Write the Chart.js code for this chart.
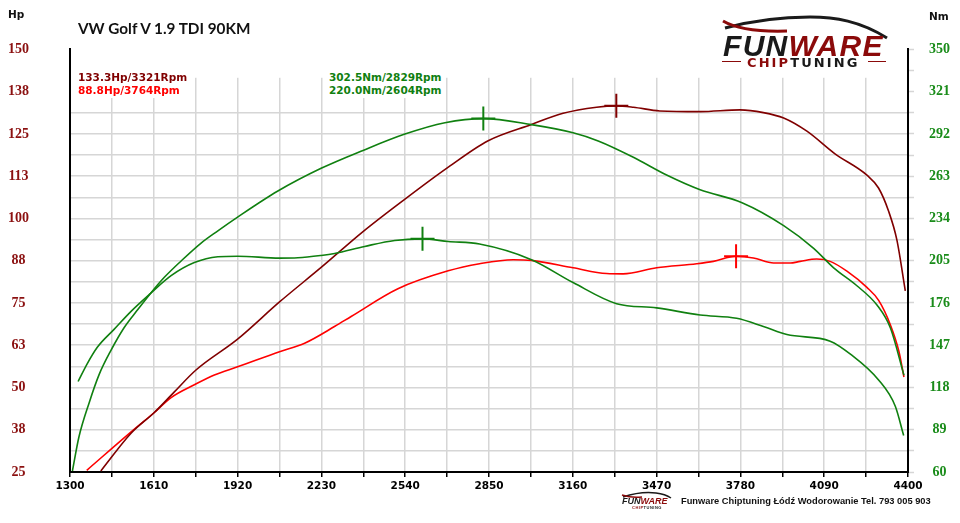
<!DOCTYPE html>
<html><head><meta charset="utf-8">
<script src="https://cdn.jsdelivr.net/npm/chart.js@4.4.0/dist/chart.umd.min.js"></script>
<style>
html,body{margin:0;padding:0;background:#fff;}
#wrap{position:relative;width:960px;height:523px;overflow:hidden;background:#fff;}
canvas{position:absolute;left:0;top:0;}
.t{position:absolute;white-space:nowrap;font-family:"DejaVu Sans";font-weight:bold;}
.leg{position:absolute;background:#fff;font-family:"DejaVu Sans";font-weight:bold;font-size:10.5px;line-height:13.4px;white-space:nowrap;}
</style></head><body>
<div id="wrap">
<canvas id="c" width="960" height="523"></canvas>
<div class="t" style="left:78px;top:20.5px;font-family:Lato;font-size:15.3px;line-height:15px;color:#111;">VW Golf V 1.9 TDI 90KM</div>
<div class="t" style="left:8px;top:8.6px;font-size:10.5px;line-height:11px;color:#111;">Hp</div>
<div class="t" style="left:929px;top:11px;font-size:10.5px;line-height:11px;color:#111;">Nm</div>
<div class="leg" id="legHp" style="left:78px;top:70.7px;"></div>
<div class="leg" id="legNm" style="left:329px;top:70.7px;"></div>

<div style="position:absolute;left:715px;top:8px;width:185px;height:64px;">
  <svg width="185" height="34" style="position:absolute;left:0;top:0">
    <path d="M10,20 C40,12 70,9 95,9 C120,9 145,13 172,30" fill="none" stroke="#1a1a1a" stroke-width="3"/>
    <path d="M8,13 C20,20 40,24 72,23" fill="none" stroke="#8b0a0a" stroke-width="3"/>
  </svg>
  <div style="position:absolute;left:8px;top:23px;font:italic bold 30px/30px 'Liberation Sans';letter-spacing:1.3px;"><span style="color:#1a1a1a">FUN</span><span style="color:#8b0a0a">WARE</span></div>
  <div style="position:absolute;left:7px;top:52.5px;width:19px;height:1.5px;background:#8b0a0a;"></div>
  <div style="position:absolute;left:32px;top:48px;font:bold 13px/13px 'DejaVu Sans';letter-spacing:2.1px;"><span style="color:#8b0a0a">CHIP</span><span style="color:#1a1a1a">TUNING</span></div>
  <div style="position:absolute;left:153px;top:52.5px;width:18px;height:1.5px;background:#8b0a0a;"></div>
</div>

<div style="position:absolute;left:620px;top:491px;width:55px;height:20px;">
  <svg width="55" height="8" style="position:absolute;left:0;top:0">
    <path d="M3,6 C15,2 28,1 36,2 C44,3 48,5 51,7" fill="none" stroke="#1a1a1a" stroke-width="1.5"/>
    <path d="M2,4 C8,6 14,7 22,6" fill="none" stroke="#8b0a0a" stroke-width="1.5"/>
  </svg>
  <div style="position:absolute;left:2px;top:6px;font:italic bold 9px/9px 'Liberation Sans';"><span style="color:#1a1a1a">FUN</span><span style="color:#8b0a0a">WARE</span></div>
  <div style="position:absolute;left:12px;top:14.5px;font:bold 4px/4px 'Liberation Sans';letter-spacing:0.5px;"><span style="color:#8b0a0a">CHIP</span><span style="color:#1a1a1a">TUNING</span></div>
</div>
<div class="t" style="left:681px;top:496px;font-family:'Liberation Sans';font-size:9.3px;line-height:10px;color:#111;">Funware Chiptuning Łódź Wodorowanie Tel. 793 005 903</div>
</div>

<script>
// ---- tick labels ----
const rpmLabels = ['1300','1610','1920','2230','2540','2850','3160','3470','3780','4090','4400'];
const hpLabels  = ['25','38','50','63','75','88','100','113','125','138','150'];
const nmLabels  = ['60','89','118','147','176','205','234','263','292','321','350'];

// ---- tuned power (Hp) ----
const tunedHpRpm = [1414,1525,1612,1686,1765,1920,2075,2229,2384,2539,2693,2847,3007,3124,3248,3321,3384,3482,3631,3779,3865,3940,4026,4130,4248,4291,4328,4359,4390];
const tunedHp    = [25.3,36.4,42.6,48.7,55.1,64.3,75.3,85.5,96.1,105.7,114.8,123.0,127.8,131.1,132.9,133.3,132.9,131.8,131.6,132.1,131.3,129.7,125.8,119.1,112.8,109.0,102.2,93.6,78.6];

// ---- stock power (Hp) ----
const stockHpRpm = [1362,1525,1612,1674,1760,1834,1920,2075,2168,2280,2340,2513,2699,2815,2939,3007,3161,3285,3346,3470,3618,3680,3764,3828,3903,3964,4001,4062,4112,4174,4248,4292,4335,4366,4385];
const stockHp    = [25.5,36.8,42.6,47.0,50.8,53.7,56.1,60.6,63.1,68.1,71.0,79.2,84.5,86.6,87.8,87.6,85.4,83.7,83.6,85.4,86.6,87.3,88.8,88.3,86.8,86.8,87.3,88.0,87.3,84.4,79.6,75.7,68.5,60.8,53.1];

// ---- tuned torque (Nm) ----
const tunedNmRpm = [1309,1333,1371,1408,1451,1500,1550,1597,1649,1711,1785,1847,1920,2069,2229,2384,2539,2687,2829,3007,3161,3254,3384,3507,3631,3786,3940,4051,4125,4211,4286,4335,4385];
const tunedNm    = [60.7,84.0,107.6,127.0,143.3,159.0,171.3,182.4,193.6,204.8,217.1,225.5,234.9,252.8,268.4,280.7,291.9,299.7,302.5,298.4,292.8,287.2,276.0,263.8,253.7,244.8,229.1,213.5,200.1,187.8,174.4,158.8,126.4];

// ---- stock torque (Nm) ----
const stockNmRpm = [1330,1364,1401,1463,1525,1597,1674,1760,1847,1920,2075,2143,2229,2279,2390,2501,2604,2699,2815,3007,3161,3322,3470,3631,3766,3865,3952,4112,4187,4292,4353,4384];
const stockNm    = [122.1,134.4,145.6,157.9,170.1,182.4,194.7,203.7,207.7,208.1,206.8,207.0,208.6,210.0,214.8,218.9,220.0,218.2,216.4,205.7,190.0,175.5,172.6,167.7,165.5,159.9,154.3,149.8,140.9,123.0,105.1,85.0];

// ---- peaks (legend) ----
const peakHpVal = [133.3, 88.8];
const peakHpRpm = [3321, 3764];
const peakNmVal = [302.5, 220.0];
const peakNmRpm = [2829, 2604];

const C_TUNED_HP = '#800000', C_STOCK_HP = '#ff0000', C_NM = '#108010';
const GRID = '#d6d6d6';

document.getElementById('legHp').innerHTML =
  `<div style="color:${C_TUNED_HP}">${peakHpVal[0].toFixed(1)}Hp/${peakHpRpm[0]}Rpm</div>` +
  `<div style="color:${C_STOCK_HP}">${peakHpVal[1].toFixed(1)}Hp/${peakHpRpm[1]}Rpm</div>`;
document.getElementById('legNm').innerHTML =
  `<div style="color:${C_NM}">${peakNmVal[0].toFixed(1)}Nm/${peakNmRpm[0]}Rpm</div>` +
  `<div style="color:${C_NM}">${peakNmVal[1].toFixed(1)}Nm/${peakNmRpm[1]}Rpm</div>`;

const pts = (xs, ys) => xs.map((x, i) => ({x, y: ys[i]}));

function curve(data, color, axis) {
  return {type:'line', data, borderColor:color, borderWidth:1.6, pointRadius:0,
          cubicInterpolationMode:'monotone', fill:false, yAxisID:axis};
}
function peak(x, y, color, axis) {
  return {type:'line', data:[{x, y}], showLine:false, pointStyle:'cross', pointRadius:12,
          pointBorderWidth:2, borderColor:color, pointBorderColor:color, yAxisID:axis};
}

const maskPlugin = {
  id:'mask',
  beforeDatasetsDraw(chart) {
    const {ctx, chartArea:a, scales} = chart;
    const yb = scales.yHp.getPixelForValue(141.6);
    ctx.save();
    ctx.fillStyle = '#fff';
    ctx.fillRect(a.left + 1.5, a.top - 1, a.right - a.left - 3, yb - a.top + 1);
    ctx.restore();
  }
};

new Chart(document.getElementById('c'), {
  data: {
    datasets: [
      curve(pts(tunedNmRpm, tunedNm), C_NM, 'yNm'),
      curve(pts(stockNmRpm, stockNm), C_NM, 'yNm'),
      curve(pts(tunedHpRpm, tunedHp), C_TUNED_HP, 'yHp'),
      curve(pts(stockHpRpm, stockHp), C_STOCK_HP, 'yHp'),
      peak(peakNmRpm[0], peakNmVal[0], C_NM, 'yNm'),
      peak(peakNmRpm[1], peakNmVal[1], C_NM, 'yNm'),
      peak(peakHpRpm[0], peakHpVal[0], C_TUNED_HP, 'yHp'),
      peak(peakHpRpm[1], peakHpVal[1], C_STOCK_HP, 'yHp')
    ]
  },
  options: {
    responsive:false, animation:false, devicePixelRatio:1,
    layout:{padding:{top:40, left:0, right:0, bottom:0}},
    plugins:{legend:{display:false}, tooltip:{enabled:false}, title:{display:false}},
    scales: {
      x: {
        type:'linear', position:'bottom', min:1300, max:4400,
        ticks:{stepSize:155, autoSkip:false, maxRotation:0, padding:2.5, color:'#000',
               font:{family:'DejaVu Sans', weight:'bold', size:10.5},
               callback:(v, i) => i % 2 === 0 ? rpmLabels[i / 2] : ''},
        grid:{color:GRID, lineWidth:1.5, tickColor:'#000', tickLength:5, tickWidth:1.5},
        border:{color:'#000', width:2},
        afterFit:s => { s.height = 51; }
      },
      yHp: {
        type:'linear', position:'left', min:25, max:150,
        ticks:{stepSize:6.25, autoSkip:false, crossAlign:'center', padding:41, color:'#8b1010',
               font:{family:'Liberation Serif', weight:'bold', size:14},
               callback:(v, i) => i % 2 === 0 ? hpLabels[i / 2] : ''},
        grid:{color:ctx => (ctx.tick && ctx.tick.value > 135) ? 'rgba(0,0,0,0)' : GRID, lineWidth:1.5, drawTicks:false},
        border:{color:'#000', width:2},
        afterFit:s => { s.width = 70; }
      },
      yNm: {
        type:'linear', position:'right', min:60, max:350,
        ticks:{stepSize:14.5, autoSkip:false, crossAlign:'center', padding:15, color:'#1a8c1a',
               font:{family:'Liberation Serif', weight:'bold', size:14},
               callback:(v, i) => i % 2 === 0 ? nmLabels[i / 2] : ''},
        grid:{drawOnChartArea:false, drawTicks:true, tickLength:6, tickColor:GRID, tickWidth:1.5},
        border:{color:'#000', width:2},
        afterFit:s => { s.width = 52; }
      }
    }
  },
  plugins:[maskPlugin]
});
</script>
</body></html>
